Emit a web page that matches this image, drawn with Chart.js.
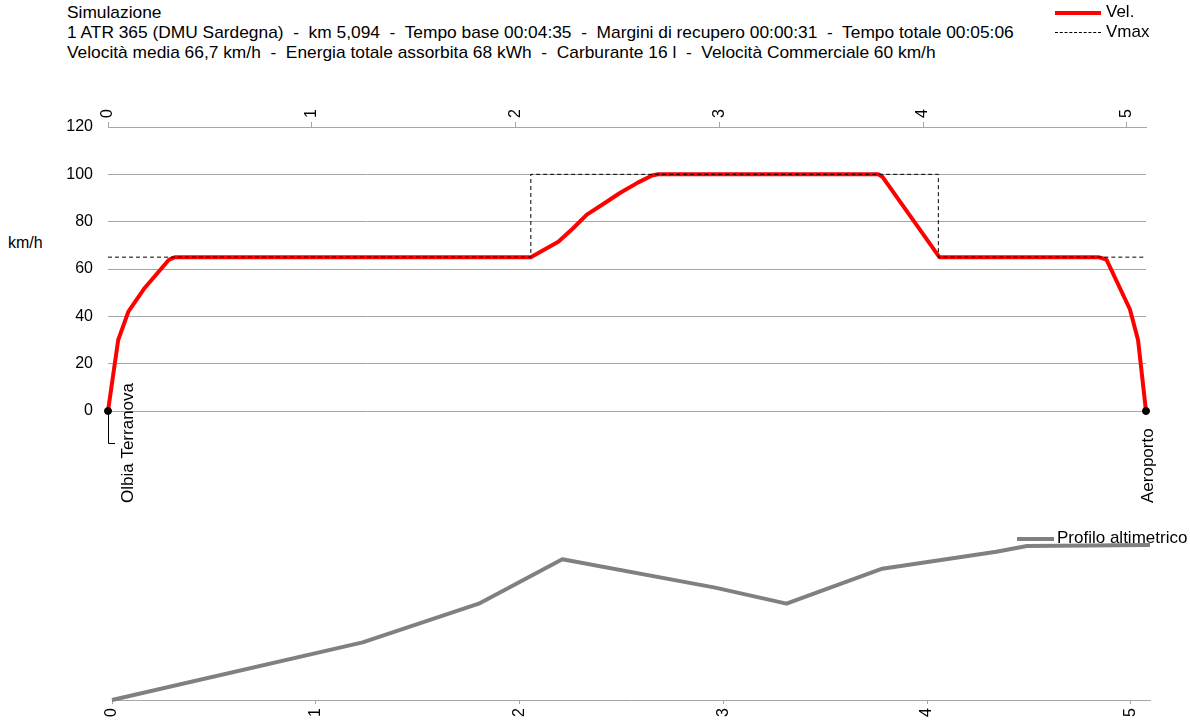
<!DOCTYPE html>
<html>
<head>
<meta charset="utf-8">
<script src="https://cdn.jsdelivr.net/npm/chart.js@4.4.0/dist/chart.umd.min.js"></script>
<style>
  body { margin: 0; background: #fff; font-family: 'Liberation Sans', Arial, sans-serif; color: #000; }
  #wrap { position: relative; width: 1190px; height: 726px; overflow: hidden; }
  #header { position: absolute; left: 67px; top: 2px; font-size: 17.35px; line-height: 20px; white-space: pre; }
  canvas { position: absolute; left: 0; }
  .leg { position: absolute; font-size: 17px; line-height: 20px; white-space: nowrap; }
  .leg .s { display: inline-block; height: 0; vertical-align: middle; }
  #ylab { position: absolute; left: 8px; top: 234px; font-size: 16px; }
</style>
</head>
<body>
<div id="wrap">
  <div id="header"></div>
  <div id="ylab">km/h</div>
  <canvas id="velChart" width="1190" height="520" style="top:0"></canvas>
  <canvas id="altChart" width="1190" height="206" style="top:520px"></canvas>
</div>
<script>
const headerLines = [
  'Simulazione',
  '1 ATR 365 (DMU Sardegna)  -  km 5,094  -  Tempo base 00:04:35  -  Margini di recupero 00:00:31  -  Tempo totale 00:05:06',
  'Velocità media 66,7 km/h  -  Energia totale assorbita 68 kWh  -  Carburante 16 l  -  Velocità Commerciale 60 km/h'
];

const kmTicks = [0, 1, 2, 3, 4, 5];
const speedTicks = [0, 20, 40, 60, 80, 100, 120];
const lineLength = 5.094;

// velocità effettiva
const velKm  = [0, 0.05, 0.10, 0.18, 0.30, 0.33, 2.075, 2.21, 2.28, 2.35, 2.44, 2.51, 2.60, 2.67, 2.70, 3.78, 3.80, 3.94, 4.08, 4.86, 4.90, 5.015, 5.055, 5.094];
const velKmh = [0, 30, 42, 52, 64, 65, 65, 71.5, 77, 83, 88, 92, 96.5, 99.5, 100, 100, 99, 82, 65, 65, 64, 43, 30, 0];

// velocità massima
const vmaxKm  = [0, 2.075, 2.075, 4.075, 4.075, 5.094];
const vmaxKmh = [65, 65, 100, 100, 65, 65];

// stazioni
const stationNames = ['Olbia Terranova', 'Aeroporto'];
const stationKm = [0, 5.094];
const stationKmh = [0, 0];

// profilo altimetrico (m)
const altKm = [0, 1.23, 1.80, 2.21, 2.96, 3.31, 3.78, 4.34, 4.49, 5.094];
const altM  = [2, 8.1, 12.2, 16.9, 13.9, 12.2, 15.9, 17.7, 18.3, 18.4];

document.getElementById('header').textContent = headerLines.join('\n');

const pts = (xs, ys) => xs.map((x, i) => ({ x: x, y: ys[i] }));
const fixTicks = list => s => { s.ticks = list.map(v => ({ value: v })); };

Chart.defaults.font.family = "'Liberation Sans', Arial, sans-serif";
Chart.defaults.color = '#000';

function addLegend(left, top, sample, label) {
  const div = document.createElement('div');
  div.className = 'leg';
  div.style.left = left + 'px';
  div.style.top = top + 'px';
  const s = document.createElement('span');
  s.className = 's';
  s.style.width = sample.w + 'px';
  s.style.borderTop = sample.border;
  s.style.marginRight = sample.gap + 'px';
  div.appendChild(s);
  div.appendChild(document.createTextNode(label));
  document.getElementById('wrap').appendChild(div);
}

const stationLabels = {
  id: 'stationLabels',
  afterDatasetsDraw(chart) {
    const { ctx, scales: { x, y } } = chart;
    ctx.save();
    ctx.font = "17px 'Liberation Sans', Arial, sans-serif";
    ctx.fillStyle = '#000';
    ctx.strokeStyle = '#000';
    ctx.lineWidth = 1;
    stationNames.forEach((name, i) => {
      const px = x.getPixelForValue(stationKm[i]);
      const py = y.getPixelForValue(stationKmh[i]);
      let lx = px + 2;
      if (i === 0) {
        ctx.beginPath();
        ctx.moveTo(Math.round(px) + 0.5, py + 3);
        ctx.lineTo(Math.round(px) + 0.5, py + 32.5);
        ctx.lineTo(px + 7, py + 32.5);
        ctx.stroke();
        lx = px + 20;
      }
      ctx.save();
      ctx.translate(lx, py + 92);
      ctx.rotate(-Math.PI / 2);
      ctx.textAlign = 'left';
      ctx.textBaseline = 'middle';
      ctx.fillText(name, 0, 0);
      ctx.restore();
    });
    ctx.restore();
  }
};

const velDatasets = [
  { label: 'Vmax', data: pts(vmaxKm, vmaxKmh), borderColor: '#000', borderWidth: 1, borderDash: [4, 3],
    pointRadius: 0, order: 1, clip: false },
  { label: 'Vel.', data: pts(velKm, velKmh), borderColor: '#ff0000', borderWidth: 4, borderJoinStyle: 'round',
    pointRadius: 0, order: 2, clip: false },
  { label: 'Stazioni', type: 'scatter', data: pts(stationKm, stationKmh), pointRadius: 3.5,
    backgroundColor: '#000', borderColor: '#000', order: 0, clip: false }
];

new Chart(document.getElementById('velChart'), {
  type: 'line',
  data: { datasets: velDatasets },
  options: {
    responsive: false,
    animation: false,
    layout: { padding: { left: 0, top: 87, right: 44, bottom: 109 } },
    plugins: { legend: { display: false }, tooltip: { enabled: false } },
    scales: {
      x: {
        type: 'linear', position: 'top', min: 0, max: lineLength,
        afterBuildTicks: fixTicks(kmTicks),
        afterFit: s => { s.height = 40; },
        ticks: { maxRotation: 90, minRotation: 90, padding: 4, labelOffset: 19, font: { size: 16 } },
        grid: { drawOnChartArea: false, tickLength: 5, color: '#a6a6a6' },
        border: { color: '#a6a6a6' }
      },
      y: {
        min: 0, max: 120,
        afterBuildTicks: fixTicks(speedTicks),
        afterFit: s => { s.width = 108; },
        ticks: { padding: 15, font: { size: 16 } },
        grid: { drawTicks: false, color: '#a6a6a6' },
        border: { display: false }
      }
    }
  },
  plugins: [stationLabels]
});

new Chart(document.getElementById('altChart'), {
  type: 'line',
  data: {
    datasets: [{ label: 'Profilo altimetrico', data: pts(altKm, altM), borderColor: '#808080', borderWidth: 4,
      borderJoinStyle: 'round', pointRadius: 0, clip: false }]
  },
  options: {
    responsive: false,
    animation: false,
    layout: { padding: { left: 112, top: 10, right: 40, bottom: 0 } },
    plugins: { legend: { display: false }, tooltip: { enabled: false } },
    scales: {
      x: {
        type: 'linear', position: 'bottom', min: 0, max: lineLength,
        afterBuildTicks: fixTicks(kmTicks),
        afterFit: s => { s.height = 26; },
        ticks: { maxRotation: 90, minRotation: 90, padding: 4, font: { size: 16 } },
        grid: { drawOnChartArea: false, tickLength: 4, color: '#a6a6a6' },
        border: { color: '#a6a6a6' }
      },
      y: { display: false, min: 2, max: 20 }
    }
  }
});

// legende
addLegend(1055, 2, { w: 46, border: '4px solid #ff0000', gap: 5 }, velDatasets[1].label);
addLegend(1055, 22, { w: 46, border: '1px dashed #000', gap: 5 }, velDatasets[0].label);
addLegend(1017, 528, { w: 37, border: '4px solid #808080', gap: 3 }, 'Profilo altimetrico');
</script>
</body>
</html>
